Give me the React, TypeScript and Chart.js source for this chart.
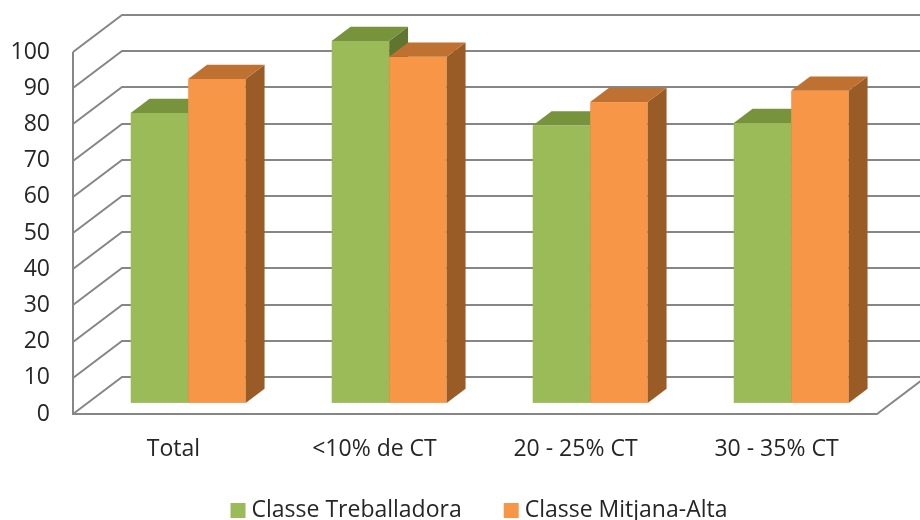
import React, { useEffect, useRef } from 'react';
import { Chart, registerables } from 'chart.js';

Chart.register(...registerables);

const categories = ['Total', '<10% de CT', '20 - 25% CT', '30 - 35% CT'];
const seriesNames = ['Classe Treballadora', 'Classe Mitjana-Alta'];
const treballadora = [80.1, 100, 76.6, 77.3];
const mitjanaAlta = [89.5, 95.6, 83.1, 86.2];
const yMin = 0;
const yMax = 100;
const yStep = 10;

const frontColors = ['#9BBB59', '#F79646'];
const topColors = ['#77933C', '#BE7131'];
const sideColors = ['#5F7530', '#9A5C27'];
const GRID = '#868686';
const TEXT = '#262626';
const FONT = "'Open Sans', sans-serif";

// 3D projection of the depth axis (pixels)
const DX = 49;
const DY = -37;
const BAR_OFF = 0.3;
const BAR_DEPTH = 0.385;

const threeD = {
  id: 'threeD',
  beforeDatasetsDraw(chart: any) {
    const { ctx, chartArea: a, scales } = chart;
    const y = scales.y;
    ctx.save();
    // walls + grid
    ctx.strokeStyle = GRID;
    ctx.lineWidth = 2;
    ctx.lineJoin = 'miter';
    ctx.beginPath();
    y.ticks.forEach((t: any) => {
      const yf = Math.round(y.getPixelForValue(t.value));
      ctx.moveTo(a.left, yf);
      ctx.lineTo(a.left + DX, yf + DY);
      ctx.lineTo(a.right + DX + 20, yf + DY);
    });
    ctx.stroke();
    ctx.beginPath();
    ctx.moveTo(a.left, Math.round(y.getPixelForValue(yMax)));
    ctx.lineTo(a.left, a.bottom);
    ctx.lineTo(a.right, a.bottom);
    ctx.lineTo(a.right + DX, a.bottom + DY);
    ctx.stroke();

    // bars
    const ox = DX * BAR_OFF, oy = DY * BAR_OFF;
    const bx = DX * BAR_DEPTH, by = DY * BAR_DEPTH;
    const nCat = chart.data.labels.length;
    const nDs = chart.data.datasets.length;
    for (let i = 0; i < nCat; i++) {
      for (let d = 0; d < nDs; d++) {
        const el = chart.getDatasetMeta(d).data[i];
        if (!el) continue;
        const p = el.getProps(['x', 'y', 'base', 'width'], true);
        const l = p.x - p.width / 2 + ox;
        const r = p.x + p.width / 2 + ox;
        const t = p.y + oy;
        const b = p.base + oy;
        ctx.fillStyle = frontColors[d];
        ctx.fillRect(l, t, r - l, b - t);
        ctx.fillStyle = sideColors[d];
        ctx.beginPath();
        ctx.moveTo(r, t);
        ctx.lineTo(r + bx, t + by);
        ctx.lineTo(r + bx, b + by);
        ctx.lineTo(r, b);
        ctx.closePath();
        ctx.fill();
        ctx.fillStyle = topColors[d];
        ctx.beginPath();
        ctx.moveTo(l, t);
        ctx.lineTo(l + bx, t + by);
        ctx.lineTo(r + bx, t + by);
        ctx.lineTo(r, t);
        ctx.closePath();
        ctx.fill();
      }
    }
    ctx.restore();
    return false;
  },
  afterDraw(chart: any) {
    const { ctx, chartArea: a } = chart;
    ctx.save();
    ctx.font = `23px ${FONT}`;
    const box = 15, gap = 6, spacing = 42;
    const items = chart.data.datasets.map((ds: any, i: number) => ({
      text: ds.label,
      color: frontColors[i],
      w: ctx.measureText(ds.label).width,
    }));
    let total = 0;
    items.forEach((it: any, i: number) => {
      total += box + gap + it.w + (i < items.length - 1 ? spacing : 0);
    });
    const center = (a.left + a.right) / 2 + 4;
    let x = center - total / 2;
    const yBox = 503;
    const yText = 517;
    items.forEach((it: any) => {
      ctx.fillStyle = it.color;
      ctx.fillRect(x, yBox, box, box);
      ctx.fillStyle = TEXT;
      ctx.textBaseline = 'alphabetic';
      ctx.textAlign = 'left';
      ctx.fillText(it.text, x + box + gap, yText);
      x += box + gap + it.w + spacing;
    });
    ctx.restore();
  },
};

export default function App() {
  const ref = useRef<HTMLCanvasElement | null>(null);
  useEffect(() => {
    if (!ref.current) return;
    const chart = new Chart(ref.current, {
      type: 'bar',
      data: {
        labels: categories,
        datasets: [
          { label: seriesNames[0], data: treballadora, backgroundColor: frontColors[0] },
          { label: seriesNames[1], data: mitjanaAlta, backgroundColor: frontColors[1] },
        ],
      },
      options: {
        responsive: false,
        animation: false,
        devicePixelRatio: 1,
        events: [],
        layout: { padding: { left: 0, right: 43, top: 52, bottom: 0 } },
        datasets: { bar: { categoryPercentage: 0.572, barPercentage: 1 } },
        plugins: { legend: { display: false }, tooltip: { enabled: false } },
        scales: {
          x: {
            grid: { display: false, drawTicks: false },
            border: { display: false },
            ticks: { color: TEXT, font: { family: FONT, size: 23 }, padding: 22, maxRotation: 0 },
            afterFit: (s: any) => { s.height = 106; },
          },
          y: {
            min: yMin,
            max: yMax,
            grid: { display: false, drawTicks: false },
            border: { display: false },
            ticks: { stepSize: yStep, color: TEXT, font: { family: FONT, size: 23 }, padding: 23 },
            afterFit: (s: any) => { s.width = 73; },
          },
        },
      },
      plugins: [threeD],
    });
    return () => chart.destroy();
  }, []);
  return (
    <div style={{ position: 'fixed', left: 0, top: 0, width: 920, height: 520, background: '#fff' }}>
      <canvas ref={ref} width={920} height={520} style={{ display: 'block' }} />
    </div>
  );
}
